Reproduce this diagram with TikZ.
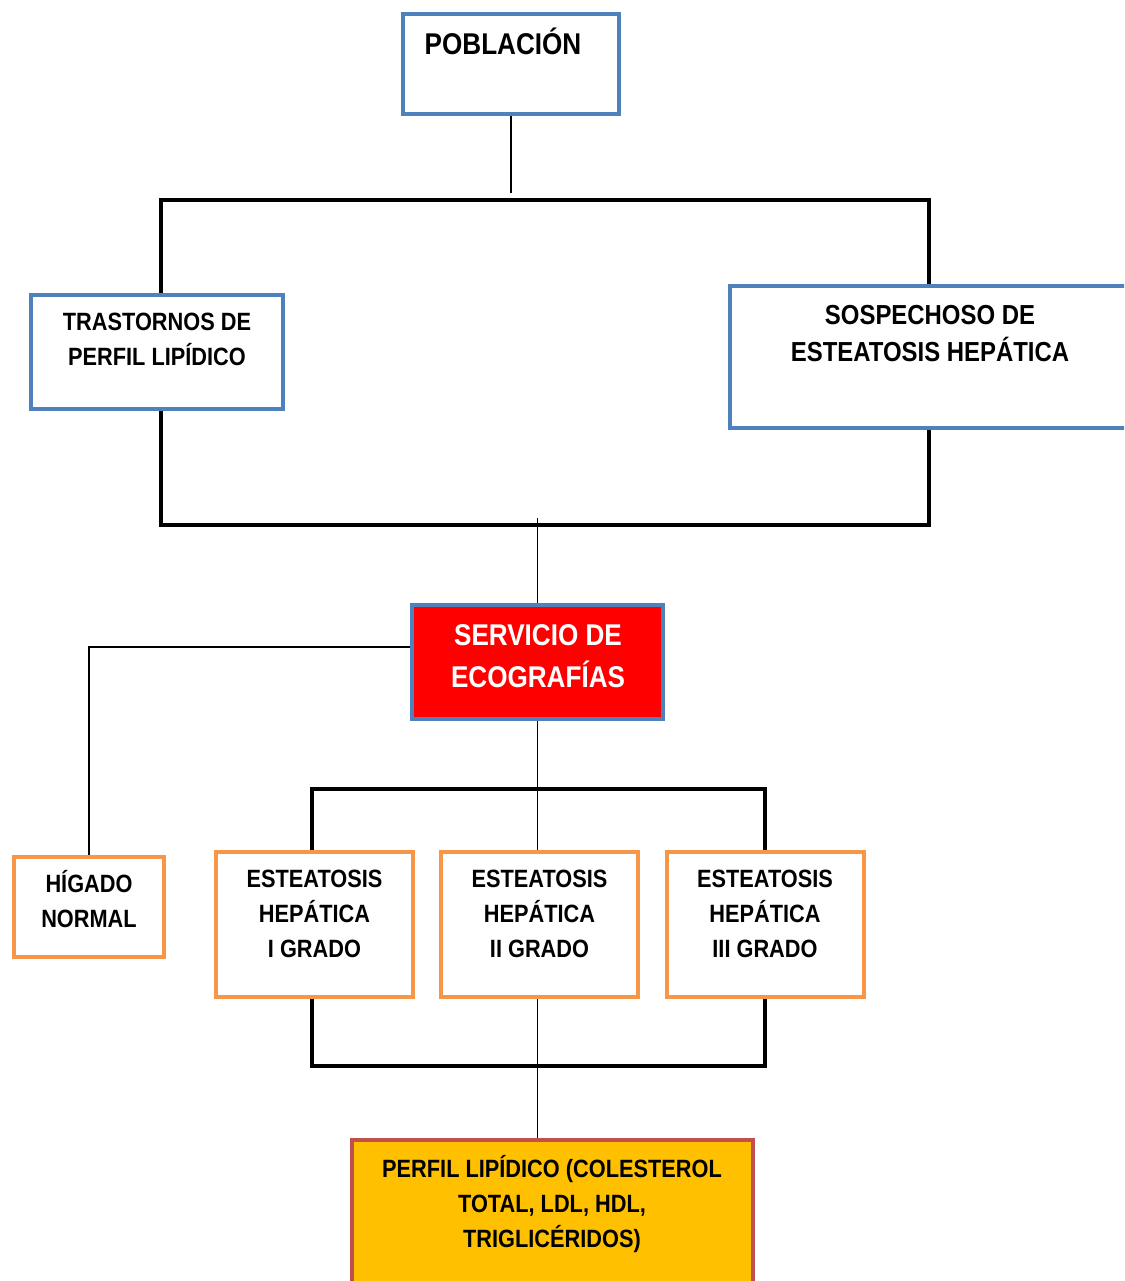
\documentclass[tikz,border=0pt]{standalone}
\usepackage{fontspec}
\setmainfont[FakeStretch=0.87]{Liberation Sans}
\definecolor{bblue}{HTML}{4F81BD}
\definecolor{borange}{HTML}{F79646}
\definecolor{bred}{HTML}{C0504D}
\definecolor{gold}{HTML}{FFC000}
\definecolor{rfill}{HTML}{FF0000}
\begin{document}
\begin{tikzpicture}[x=1pt,y=-1pt,
  bluebox/.style={draw=bblue, line width=4pt, fill=white, inner sep=0pt},
  orangebox/.style={draw=borange, line width=4pt, fill=white, inner sep=0pt},
  frame/.style={draw=black, line width=4.5pt},
  conn/.style={draw=black, line width=1.8pt},
  lbl/.style={inner sep=0pt, align=center, anchor=north, font=\bfseries},
  f25/.style={font=\fontsize{25}{35}\selectfont\bfseries},
  f27/.style={font=\fontsize{27.5}{37}\selectfont\bfseries},
  f30/.style={font=\fontsize{30}{42}\selectfont\bfseries}]
\useasboundingbox (0,0) rectangle (1124,1281);
\clip (0,0) rectangle (1124,1281);
% frames
\draw[frame] (161,200) rectangle (929,525);
\draw[frame] (312,789) rectangle (765,1066);
% boxes
\node[bluebox, minimum width=216, minimum height=100] (pob) at (511,64) {};
\node[bluebox, minimum width=252, minimum height=114] (tras) at (157,352) {};
\node[bluebox, minimum width=410, minimum height=142] (sosp) at (935,357) {};
\node[bluebox, fill=rfill, minimum width=251, minimum height=114] (serv) at (537.5,662) {};
\node[orangebox, minimum width=150, minimum height=100] (hig) at (89,907) {};
\node[orangebox, minimum width=197, minimum height=145] (g1) at (314.5,924.5) {};
\node[orangebox, minimum width=197, minimum height=145] (g2) at (539.5,924.5) {};
\node[orangebox, minimum width=197, minimum height=145] (g3) at (765,924.5) {};
\node[draw=bred, fill=gold, line width=4pt, inner sep=0pt, minimum width=401, minimum height=148] (perf) at (552.5,1214) {};
% connectors
\draw[conn] (pob.south) -- ++(0,77);
\draw[conn] (serv.north) -- ++(0,-85);
\draw[conn] ([yshift=15pt]serv.west) -| (hig.north);
\draw[conn] (serv.south) -- (serv.south |- g2.north);
\draw[conn] (serv.south |- g2.south) -- (serv.south |- perf.north);
% texts
\node[lbl, f30, anchor=base] (tpob) at (503,55) {POBLACIÓN};
\node[lbl, f25] (ttras) at (157,313) {TRASTORNOS DE\\PERFIL LIPÍDICO};
\node[lbl, f27] (tsosp) at (930,305) {SOSPECHOSO DE\\ESTEATOSIS HEPÁTICA};
\node[lbl, f30, text=white] (tserv) at (538,624) {SERVICIO DE\\ECOGRAFÍAS};
\node[lbl, f25] (thig) at (89,870) {HÍGADO\\NORMAL};
\node[lbl, f25] (tg1) at (314.5,870) {ESTEATOSIS\\HEPÁTICA\\I GRADO};
\node[lbl, f25] (tg2) at (539.5,870) {ESTEATOSIS\\HEPÁTICA\\II GRADO};
\node[lbl, f25] (tg3) at (765,870) {ESTEATOSIS\\HEPÁTICA\\III GRADO};
\node[lbl, f25] (tperf) at (552,1155) {PERFIL LIPÍDICO (COLESTEROL\\TOTAL, LDL, HDL,\\TRIGLICÉRIDOS)};
\end{tikzpicture}
\end{document}
